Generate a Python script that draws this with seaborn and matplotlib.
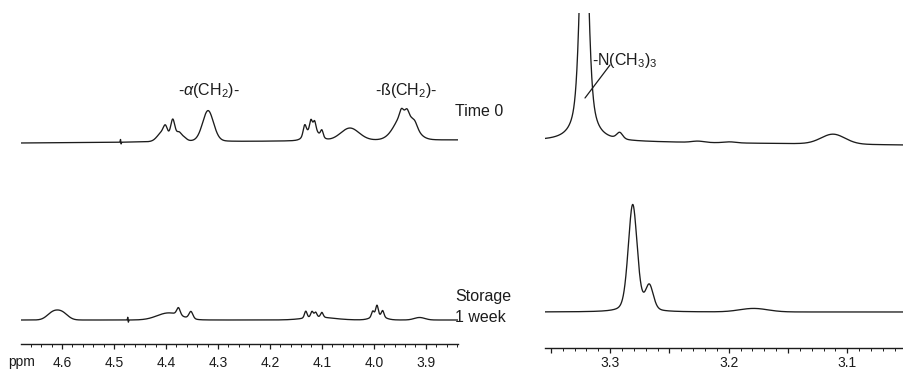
import numpy as np
import pandas as pd
import matplotlib
matplotlib.use("Agg")
import matplotlib.pyplot as plt
from matplotlib.ticker import FixedLocator, MultipleLocator
import seaborn as sns

sns.set_theme(style="white")
plt.rcParams["font.family"] = ["Liberation Sans", "DejaVu Sans"]
plt.rcParams["mathtext.fontset"] = "custom"
plt.rcParams["mathtext.rm"] = "Liberation Sans"
plt.rcParams["mathtext.it"] = "Liberation Sans:italic"

# ---- peak tables (ppm, height, half-width in ppm, Lorentzian fraction) ----
# headgroup region, time 0
t0_hg_ppm = [4.4875, 4.4865, 4.409, 4.401, 4.387, 4.375, 4.365, 4.319,
             4.118, 4.133, 4.121, 4.114, 4.100, 4.046, 3.941, 3.947, 3.936, 3.921]
t0_hg_height = [3.0, -2.0, 8.0, 11.0, 21.0, 8.0, 3.0, 31.0,
                11.0, 11.0, 10.0, 9.0, 7.0, 12.5, 27.0, 6.0, 5.0, 5.0]
t0_hg_width = [0.0006, 0.0006, 0.010, 0.005, 0.005, 0.006, 0.006, 0.0125,
               0.014, 0.0035, 0.003, 0.003, 0.003, 0.021, 0.021, 0.004, 0.004, 0.006]
t0_hg_eta = [0.0, 0.0, 0.2, 0.3, 0.3, 0.3, 0.3, 0.15,
             0.2, 0.3, 0.3, 0.3, 0.3, 0.1, 0.1, 0.3, 0.3, 0.3]

# headgroup region, after one week of storage
wk_hg_ppm = [4.618, 4.600, 4.4735, 4.4725, 4.395, 4.376, 4.352,
             4.105, 4.131, 4.119, 4.112, 4.100, 3.992, 4.002, 3.994, 3.983, 3.912]
wk_hg_height = [7.0, 7.0, 3.0, -2.5, 7.0, 7.5, 7.5,
                2.5, 7.0, 6.0, 5.0, 5.0, 3.5, 6.0, 11.0, 6.5, 2.5]
wk_hg_width = [0.013, 0.013, 0.0006, 0.0006, 0.026, 0.004, 0.0045,
               0.035, 0.003, 0.003, 0.003, 0.003, 0.015, 0.003, 0.003, 0.003, 0.012]
wk_hg_eta = [0.0, 0.0, 0.0, 0.0, 0.0, 0.3, 0.3,
             0.0, 0.3, 0.3, 0.3, 0.3, 0.0, 0.3, 0.3, 0.3, 0.0]

# trimethylammonium region, time 0
t0_nme_ppm = [3.322, 3.292, 3.226, 3.199, 3.112]
t0_nme_height = [300.0, 6.5, 1.3, 1.0, 10.0]
t0_nme_width = [0.0038, 0.003, 0.006, 0.006, 0.012]
t0_nme_eta = [0.65, 0.3, 0.0, 0.0, 0.1]

# trimethylammonium region, after one week of storage
wk_nme_ppm = [3.281, 3.267, 3.179]
wk_nme_height = [107.0, 25.0, 3.5]
wk_nme_width = [0.0045, 0.004, 0.014]
wk_nme_eta = [0.3, 0.3, 0.0]

left_ticks = [4.6, 4.5, 4.4, 4.3, 4.2, 4.1, 4.0, 3.9]
right_ticks = [3.3, 3.2, 3.1]


def spectrum(ppm, centers, heights, widths, etas):
    y = np.zeros_like(ppm)
    for c, h, w, e in zip(centers, heights, widths, etas):
        r2 = ((ppm - c) / w) ** 2
        y += h * (e / (1.0 + r2) + (1.0 - e) * np.exp(-np.log(2) * r2))
    return y


W, H = 904, 371
fig = plt.figure(figsize=(W / 100, H / 100), dpi=100)

ink = "#1c1c1c"


def px_axes(x0, x1, y_top, y_axis):
    ax = fig.add_axes([x0 / W, (H - y_axis) / H, (x1 - x0) / W, (y_axis - y_top) / H])
    ax.set_ylim(0, y_axis - y_top)
    for s in ("top", "left", "right"):
        ax.spines[s].set_visible(False)
    ax.spines["bottom"].set_color(ink)
    ax.spines["bottom"].set_linewidth(1.0)
    ax.set_yticks([])
    ax.set_facecolor("none")
    ax.tick_params(axis="x", which="both", bottom=True, direction="out",
                   colors=ink, labelsize=10, pad=5)
    ax.tick_params(axis="x", which="major", length=3.5, width=0.9)
    ax.tick_params(axis="x", which="minor", length=1.8, width=0.7)
    return ax


# ---- left panel: 4.68 - 3.84 ppm ----
axL = px_axes(21, 458, 0, 344)
lo_L, hi_L = 4.679, 3.838
ppmL = np.linspace(lo_L, hi_L, 5000)
base_top_L = 344 - np.linspace(143, 140, ppmL.size)
sigL_top = base_top_L + spectrum(ppmL, t0_hg_ppm, t0_hg_height, t0_hg_width, t0_hg_eta)
sigL_bot = (344 - 320) + spectrum(ppmL, wk_hg_ppm, wk_hg_height, wk_hg_width, wk_hg_eta)
dfL = pd.DataFrame({"ppm": np.concatenate([ppmL, ppmL]),
                    "signal": np.concatenate([sigL_top, sigL_bot]),
                    "trace": ["t0"] * ppmL.size + ["wk"] * ppmL.size})
sns.lineplot(data=dfL, x="ppm", y="signal", units="trace", estimator=None, sort=False,
             color=ink, lw=0.95, ax=axL)
axL.set_xlim(lo_L, hi_L)
axL.xaxis.set_major_locator(FixedLocator(left_ticks))
axL.set_xticklabels([f"{t:.1f}" for t in left_ticks])
axL.xaxis.set_minor_locator(MultipleLocator(0.02))
axL.set_xlabel("")
axL.set_ylabel("")

# ---- right panel: 3.355 - 3.053 ppm ----
axR = px_axes(545, 903, 13, 348)
lo_R, hi_R = 3.355, 3.053
ppmR = np.linspace(lo_R, hi_R, 5000)
base_top_R = 348 - np.linspace(141, 145, ppmR.size)
sigR_top = base_top_R + spectrum(ppmR, t0_nme_ppm, t0_nme_height, t0_nme_width, t0_nme_eta)
sigR_bot = (348 - 312) + spectrum(ppmR, wk_nme_ppm, wk_nme_height, wk_nme_width, wk_nme_eta)
dfR = pd.DataFrame({"ppm": np.concatenate([ppmR, ppmR]),
                    "signal": np.concatenate([sigR_top, sigR_bot]),
                    "trace": ["t0"] * ppmR.size + ["wk"] * ppmR.size})
sns.lineplot(data=dfR, x="ppm", y="signal", units="trace", estimator=None, sort=False,
             color=ink, lw=0.95, ax=axR)
axR.set_xlim(lo_R, hi_R)
major_R = [3.35, 3.3, 3.25, 3.2, 3.15, 3.1, 3.05]
axR.xaxis.set_major_locator(FixedLocator(major_R))
axR.set_xticklabels([f"{t:.1f}" if any(abs(t - r) < 1e-9 for r in right_ticks) else ""
                     for t in major_R])
axR.xaxis.set_minor_locator(MultipleLocator(0.01))
axR.tick_params(axis="x", which="both", pad=2.5)
axR.set_xlabel("")
axR.set_ylabel("")

# ---- annotations (figure pixel coordinates, y from top) ----
def ftext(x, y, s, ha="left", size=11.5):
    fig.text(x / W, 1 - y / H, s, ha=ha, va="center", fontsize=size, color=ink)


ftext(22, 362, "ppm", ha="center", size=10)
ftext(209, 90, r"-$\it{\alpha}$(CH$_2$)-", ha="center")
ftext(406, 90, "-ß(CH$_2$)-", ha="center")
ftext(455, 112, "Time 0")
ftext(455, 296, "Storage")
ftext(455, 317, "1 week")
ftext(592, 60, "-N(CH$_3$)$_3$")
fig.add_artist(plt.Line2D([610 / W, 585 / W], [1 - 65 / H, 1 - 98 / H],
                          color=ink, lw=0.9))

fig.savefig("out.png", dpi=100, facecolor="white")
